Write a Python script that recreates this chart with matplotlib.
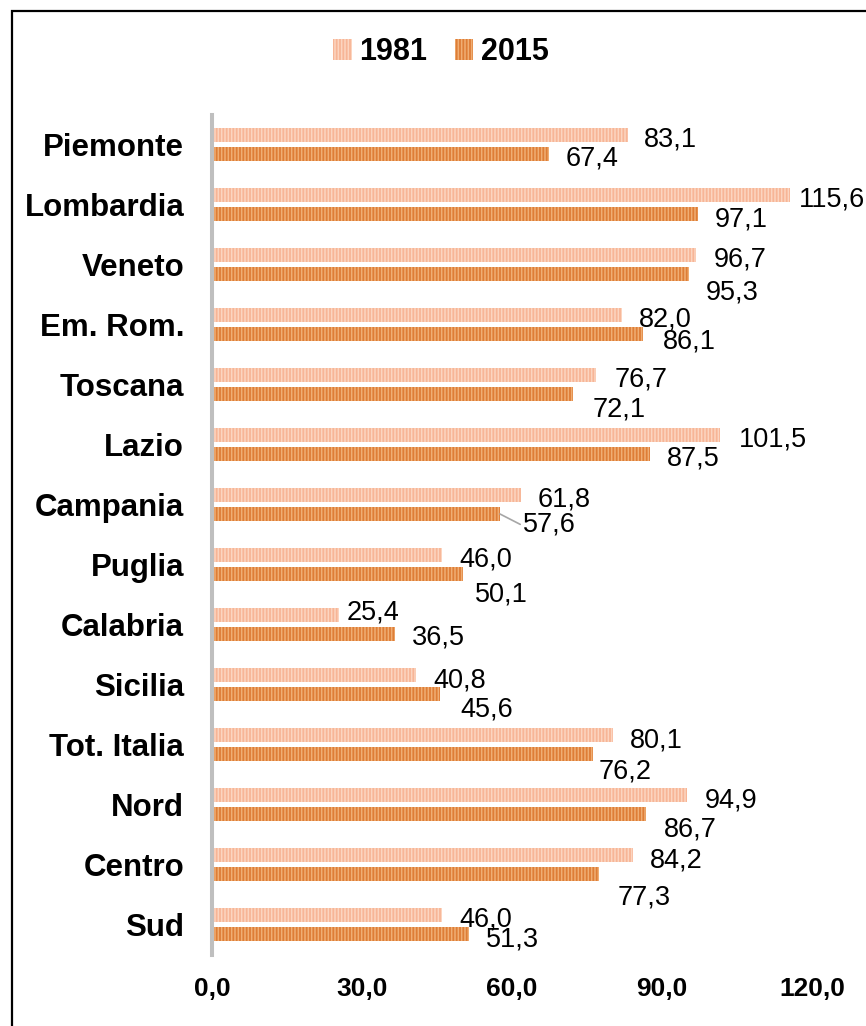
import matplotlib
matplotlib.use("Agg")
import matplotlib.pyplot as plt
from matplotlib.patches import Rectangle, Patch

plt.rcParams['font.family'] = ['Liberation Sans', 'DejaVu Sans']
plt.rcParams['hatch.linewidth'] = 1.1

categories = ["Piemonte", "Lombardia", "Veneto", "Em. Rom.", "Toscana", "Lazio",
              "Campania", "Puglia", "Calabria", "Sicilia", "Tot. Italia", "Nord",
              "Centro", "Sud"]
values_1981 = [83.1, 115.6, 96.7, 82.0, 76.7, 101.5, 61.8, 46.0, 25.4, 40.8, 80.1, 94.9, 84.2, 46.0]
values_2015 = [67.4, 97.1, 95.3, 86.1, 72.1, 87.5, 57.6, 50.1, 36.5, 45.6, 76.2, 86.7, 77.3, 51.3]
series_names = ["1981", "2015"]
xticks = [0, 30, 60, 90, 120]
xtick_labels = ["0,0", "30,0", "60,0", "90,0", "120,0"]

# label offsets in pixels (dx right of bar end, dy below bar centre)
off_1981 = [(16, 2), (9, 2), (18, 2), (17, 2), (19, 2), (19, 2), (17, 2), (17, 2),
            (8, -5), (17, 3), (17, 3), (18, 3), (17, 3), (17, 2)]
off_2015 = [(17, 2), (17, 3), (17, 16), (20, 5), (20, 13), (17, 2), (23, 8), (12, 18),
            (17, 1), (20, 13), (6, 15), (18, 13), (19, 21), (17, 3)]
leader_2015 = [False] * 6 + [True] + [False] * 7

W, H = 866, 1026
fig = plt.figure(figsize=(W / 100, H / 100), dpi=100)
ax = fig.add_axes([212 / W, (H - 954.5) / H, 600 / W, 840 / H])

c81_face, c81_hatch = "#F7B596", "#FCD5C0"
c15_face, c15_hatch = "#DE7D36", "#F0AE74"

bh = 14 / 60
sh = 9.5 / 60
idx = list(range(len(categories)))
y81 = [i - sh for i in idx]
y15 = [i + sh for i in idx]

ax.barh(y81, values_1981, height=bh, color=c81_face, edgecolor=c81_hatch,
        hatch="|||||", linewidth=0, zorder=2)
ax.barh(y15, values_2015, height=bh, color=c15_face, edgecolor=c15_hatch,
        hatch="|||||", linewidth=0, zorder=2)

k = 0.72
def fmt(v):
    return f"{v:.1f}".replace(".", ",")

for i in idx:
    dx, dy = off_1981[i]
    ax.annotate(fmt(values_1981[i]), xy=(values_1981[i], y81[i]),
                xytext=(dx * k, -(dy + 9.5) * k), textcoords="offset points",
                ha="left", va="baseline", fontsize=19.5, color="black", zorder=3)
    dx, dy = off_2015[i]
    kw = {}
    if leader_2015[i]:
        kw["arrowprops"] = dict(arrowstyle="-", color="#A6A6A6", lw=1.2,
                                shrinkA=0, shrinkB=0, relpos=(0, 0.45))
    ax.annotate(fmt(values_2015[i]), xy=(values_2015[i], y15[i]),
                xytext=(dx * k, -(dy + 9.5) * k), textcoords="offset points",
                ha="left", va="baseline", fontsize=19.5, color="black", zorder=3, **kw)

ax.set_xlim(0, 120)
ax.set_ylim(len(categories) - 0.5, -0.5)
ax.set_yticks(idx)
ax.set_yticklabels(categories, fontsize=22.5, fontweight="bold")
ax.set_xticks(xticks)
ax.set_xticklabels(xtick_labels, fontsize=19, fontweight="bold")
ax.tick_params(axis="y", length=0, pad=20)
ax.tick_params(axis="x", length=0, pad=16)
for s in ["top", "right", "bottom"]:
    ax.spines[s].set_visible(False)
ax.spines["left"].set_color("#BFBFBF")
ax.spines["left"].set_linewidth(2.9)
ax.set_facecolor("none")

handles = [Patch(facecolor=c81_face, edgecolor=c81_hatch, hatch="|||||", linewidth=0),
           Patch(facecolor=c15_face, edgecolor=c15_hatch, hatch="|||||", linewidth=0)]
leg = fig.legend(handles, series_names, loc="center", bbox_to_anchor=(441 / W, 1 - 52 / H),
                 ncol=2, frameon=False, handlelength=0.6, handleheight=0.7,
                 handletextpad=0.25, columnspacing=0.9,
                 prop={"size": 22, "weight": "bold"})

fig.patches.append(Rectangle((12 / W, -0.1), 1.2, (H - 11) / H + 0.1,
                             transform=fig.transFigure, fill=False,
                             edgecolor="black", linewidth=1.6, zorder=10))

fig.savefig("out.png", dpi=100)
